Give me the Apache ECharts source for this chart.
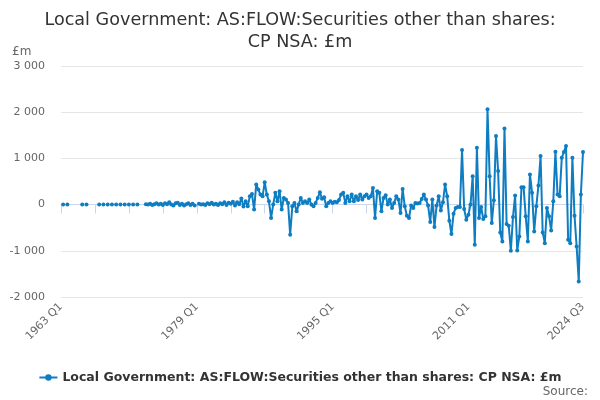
<!DOCTYPE html>
<html>
<head>
<meta charset="utf-8">
<script src="https://cdn.jsdelivr.net/npm/echarts@6/dist/echarts.min.js"></script>
<style>
  html, body { margin: 0; padding: 0; background: #fff; }
  #chart { width: 600px; height: 400px; }
</style>
</head>
<body>
<div id="chart"></div>
<script>
// quarters 1963 Q1 .. 2024 Q3
const firstYear = 1963
const lastYear = 2024
const lastQuarter = 3
const quarters = []
for (let y = firstYear; y <= lastYear; y++) {
  for (let q = 1; q <= 4; q++) {
    if (y === lastYear && q > lastQuarter) break
    quarters.push(y + ' Q' + q)
  }
}

// £m, null = no data
const values1963to1972 = [
  null, 0, null, 0, null, null, null, null,
  null, null, 0, null, 0, null, null, null,
  null, null, 0, null, 0, null, 0, null,
  0, null, 0, null, 0, null, 0, null,
  0, null, 0, null, 0, null, null, null
]
const values1973to1982 = [
  10, 0, 20, -10, 10, 30, 0, 20,
  -10, 30, 10, 50, 0, -20, 30, 40,
  -10, 20, -20, 10, 30, -10, 20, -20,
  null, 20, 0, 10, -10, 30, 10, 40,
  0, 20, -10, 30, 10, 50, -10, 40
]
const values1983to1992 = [
  20, 60, -20, 50, 10, 130, -40, 72,
  -37, 180, 232, -108, 435, 326, 217, 180,
  485, 217, 72, -290, 0, 254, 72, 290,
  -108, 145, 108, 37, -652, -37, 37, -145,
  0, 145, 37, 72, 37, 108, 0, -37
]
const values1993to2002 = [
  37, 145, 267, 124, 160, -37, 37, 72,
  37, 60, 50, 100, 217, 254, 37, 180,
  72, 217, 72, 180, 100, 217, 108, 180,
  217, 145, 180, 362, -290, 290, 254, -145,
  145, 200, 0, 108, -72, 37, 180, 108
]
const values2003to2012 = [
  -181, 340, -36, -240, -290, -22, -72, 36,
  22, 36, 123, 217, 109, -22, -377, 109,
  -486, -22, 181, -130, 51, 435, 181, -348,
  -638, -196, -72, -51, -51, 1182, -94, -326,
  -217, 0, 616, -870, 1232, -290, -51, -312
]
const values2013to2024 = [
  -254, 2066, 616, -399, 94, 1486, 725, -602,
  -797, 1645, -420, -457, -1000, -268, 196, -993,
  -689, 377, 377, -254, -797, 652, 254, -580,
  -36, 413, 1051, -602, -834, -72, -254, -558,
  72, 1145, 217, 181, 1015, 1138, 1269, -761,
  -834, 1015, -240, -906, -1667, 217, 1138
]
const values = [].concat(values1963to1972, values1973to1982, values1983to1992,
  values1993to2002, values2003to2012, values2013to2024)

const seriesName = 'Local Government: AS:FLOW:Securities other than shares: CP NSA: £m'
const lastIndex = quarters.length - 1

const fmt = v => (v < 0 ? '-' : '') + String(Math.abs(v)).replace(/\B(?=(\d{3})+(?!\d))/g, ' ')

const chart = echarts.init(document.getElementById('chart'))
chart.setOption({
  animation: false,
  textStyle: { fontFamily: 'DejaVu Sans' },
  title: {
    text: 'Local Government: AS:FLOW:Securities other than shares:\nCP NSA: £m',
    left: 'center',
    top: 4,
    textStyle: { fontSize: 17.6, fontWeight: 'normal', color: '#333', lineHeight: 22 }
  },
  graphic: [
    { type: 'text', left: 12, top: 46, style: { text: '£m', fontSize: 12, fill: '#666', fontFamily: 'DejaVu Sans' } },
    { type: 'text', right: 12, top: 386, style: { text: 'Source:', fontSize: 12, fill: '#666', fontFamily: 'DejaVu Sans' } }
  ],
  legend: {
    top: 366,
    left: 'center',
    itemWidth: 18,
    itemHeight: 8,
    textStyle: { fontSize: 12.5, fontWeight: 'bold', color: '#333' }
  },
  grid: { left: 61, right: 17, top: 66, bottom: 103 },
  xAxis: {
    type: 'category',
    data: quarters,
    boundaryGap: false,
    axisLine: { lineStyle: { color: '#ccd6eb' } },
    axisTick: {
      show: true,
      length: 9,
      interval: i => i % 16 === 0 || i === lastIndex,
      lineStyle: { color: '#ccd6eb' }
    },
    axisLabel: {
      interval: i => i % 64 === 0 || i === lastIndex,
      rotate: 45,
      color: '#666',
      fontSize: 11,
      margin: 8
    },
    splitLine: { show: false }
  },
  yAxis: {
    type: 'value',
    min: -2000,
    max: 3000,
    interval: 1000,
    axisLabel: { formatter: fmt, color: '#666', fontSize: 11, margin: 16 },
    splitLine: { lineStyle: { color: '#e6e6e6' } },
    axisLine: { show: false },
    axisTick: { show: false }
  },
  series: [
    {
      name: seriesName,
      type: 'line',
      data: values,
      symbol: 'circle',
      symbolSize: 4,
      showAllSymbol: true,
      connectNulls: false,
      itemStyle: { color: '#0e7dc2' },
      lineStyle: { width: 2, color: '#0e7dc2' }
    }
  ]
})
</script>
</body>
</html>
